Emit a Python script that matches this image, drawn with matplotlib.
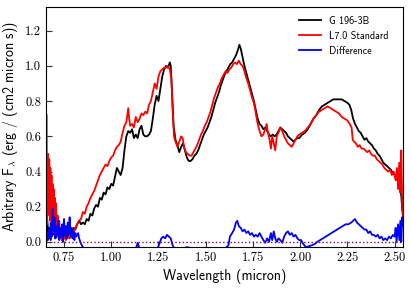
import matplotlib
matplotlib.use("Agg")
import matplotlib.pyplot as plt

# G 196-3B spectrum (black)
wl_obj = [0.656, 0.662, 0.668, 0.674, 0.680, 0.686, 0.692, 0.698, 0.704, 0.710,
          0.716, 0.722, 0.728, 0.734, 0.740, 0.748, 0.756, 0.764, 0.772, 0.780,
          0.790, 0.800, 0.810, 0.820, 0.830, 0.840, 0.850, 0.860, 0.870, 0.880,
          0.890, 0.900, 0.910, 0.920, 0.930, 0.940, 0.950, 0.960, 0.970, 0.980,
          0.990, 1.000, 1.010, 1.020, 1.030, 1.040, 1.050, 1.060, 1.070, 1.080,
          1.090, 1.100, 1.110, 1.120, 1.130, 1.140, 1.150, 1.160, 1.170, 1.180,
          1.190, 1.200, 1.210, 1.220, 1.230, 1.240, 1.250, 1.260, 1.270, 1.280,
          1.290, 1.300, 1.310, 1.315, 1.322, 1.330, 1.340, 1.350, 1.360, 1.370,
          1.380, 1.390, 1.400, 1.410, 1.420, 1.430, 1.440, 1.450, 1.460, 1.470,
          1.480, 1.490, 1.500, 1.510, 1.520, 1.530, 1.540, 1.550, 1.560, 1.570,
          1.580, 1.590, 1.600, 1.610, 1.620, 1.630, 1.640, 1.650, 1.660, 1.670,
          1.678, 1.685, 1.695, 1.705, 1.715, 1.725, 1.735, 1.745, 1.755, 1.765,
          1.775, 1.785, 1.795, 1.805, 1.815, 1.825, 1.835, 1.845, 1.855, 1.865,
          1.875, 1.885, 1.895, 1.905, 1.915, 1.925, 1.935, 1.945, 1.955, 1.965,
          1.975, 1.985, 1.995, 2.010, 2.025, 2.040, 2.055, 2.070, 2.085, 2.100,
          2.115, 2.130, 2.145, 2.160, 2.175, 2.190, 2.205, 2.220, 2.235, 2.250,
          2.260, 2.270, 2.280, 2.290, 2.300, 2.310, 2.320, 2.330, 2.340, 2.350,
          2.360, 2.370, 2.380, 2.390, 2.400, 2.410, 2.420, 2.430, 2.440, 2.450,
          2.460, 2.470, 2.480, 2.490, 2.500, 2.510, 2.520, 2.530, 2.535, 2.540]
fl_obj = [0.02, 0.12, 0.03, 0.08, 0.01, 0.10, 0.04, 0.13, 0.02, 0.07,
          0.03, 0.09, 0.02, 0.06, 0.01, 0.04, 0.02, 0.05, 0.03, 0.06,
          0.05, 0.08, 0.07, 0.10, 0.12, 0.10, 0.11, 0.10, 0.13, 0.12,
          0.16, 0.15, 0.19, 0.21, 0.20, 0.25, 0.24, 0.28, 0.27, 0.31,
          0.30, 0.33, 0.32, 0.37, 0.42, 0.40, 0.38, 0.42, 0.52, 0.60,
          0.63, 0.62, 0.64, 0.59, 0.61, 0.59, 0.64, 0.66, 0.61, 0.60,
          0.60, 0.61, 0.63, 0.70, 0.78, 0.83, 0.80, 0.87, 0.94, 0.98,
          1.00, 0.99, 1.02, 1.00, 0.85, 0.66, 0.58, 0.55, 0.51, 0.54,
          0.56, 0.52, 0.48, 0.46, 0.46, 0.47, 0.49, 0.50, 0.52, 0.55,
          0.58, 0.61, 0.63, 0.65, 0.68, 0.71, 0.75, 0.79, 0.82, 0.85,
          0.89, 0.92, 0.95, 0.97, 0.99, 1.01, 1.02, 1.04, 1.06, 1.09,
          1.12, 1.10, 1.05, 1.00, 0.96, 0.92, 0.88, 0.84, 0.80, 0.75,
          0.70, 0.67, 0.66, 0.64, 0.65, 0.63, 0.61, 0.60, 0.61, 0.60,
          0.61, 0.63, 0.65, 0.64, 0.63, 0.62, 0.60, 0.59, 0.58, 0.57,
          0.58, 0.59, 0.59, 0.61, 0.62, 0.64, 0.67, 0.70, 0.72, 0.75,
          0.77, 0.78, 0.79, 0.80, 0.81, 0.81, 0.81, 0.81, 0.80, 0.79,
          0.78, 0.75, 0.70, 0.67, 0.65, 0.63, 0.62, 0.60, 0.58, 0.59,
          0.57, 0.56, 0.55, 0.53, 0.52, 0.50, 0.49, 0.47, 0.45, 0.44,
          0.43, 0.42, 0.41, 0.39, 0.38, 0.36, 0.34, 0.30, 0.26, 0.18]

# L7.0 standard (red)
wl_std = [0.6585, 0.6595, 0.661, 0.663, 0.666, 0.669, 0.672, 0.675, 0.678, 0.681,
          0.684, 0.687, 0.690, 0.693, 0.696, 0.699, 0.702, 0.705, 0.708, 0.712,
          0.716, 0.720, 0.725, 0.730, 0.735, 0.740, 0.745, 0.750, 0.760, 0.770,
          0.780, 0.790, 0.800, 0.810, 0.820, 0.830, 0.840, 0.850, 0.860, 0.870,
          0.880, 0.890, 0.900, 0.910, 0.920, 0.930, 0.940, 0.950, 0.960, 0.970,
          0.980, 0.990, 1.000, 1.010, 1.020, 1.030, 1.040, 1.050, 1.060, 1.070,
          1.080, 1.090, 1.095, 1.100, 1.110, 1.120, 1.130, 1.140, 1.150, 1.160,
          1.170, 1.180, 1.190, 1.200, 1.210, 1.220, 1.230, 1.240, 1.250, 1.260,
          1.270, 1.280, 1.290, 1.300, 1.310, 1.318, 1.325, 1.332, 1.340, 1.350,
          1.360, 1.370, 1.378, 1.385, 1.395, 1.405, 1.415, 1.425, 1.435, 1.445,
          1.455, 1.465, 1.475, 1.485, 1.495, 1.505, 1.515, 1.525, 1.535, 1.545,
          1.555, 1.565, 1.575, 1.585, 1.595, 1.605, 1.615, 1.625, 1.635, 1.645,
          1.655, 1.665, 1.675, 1.685, 1.695, 1.705, 1.715, 1.725, 1.735, 1.745,
          1.755, 1.765, 1.775, 1.785, 1.795, 1.805, 1.815, 1.822, 1.830, 1.838,
          1.845, 1.852, 1.860, 1.868, 1.876, 1.885, 1.895, 1.905, 1.915, 1.925,
          1.935, 1.945, 1.955, 1.965, 1.975, 1.985, 1.995, 2.010, 2.025, 2.040,
          2.055, 2.070, 2.085, 2.100, 2.115, 2.130, 2.145, 2.160, 2.175, 2.190,
          2.205, 2.220, 2.235, 2.250, 2.262, 2.272, 2.278, 2.285, 2.295, 2.305,
          2.315, 2.325, 2.335, 2.345, 2.355, 2.365, 2.375, 2.385, 2.395, 2.405,
          2.415, 2.425, 2.435, 2.445, 2.455, 2.465, 2.475, 2.485, 2.495, 2.505,
          2.512, 2.518, 2.524, 2.530, 2.535, 2.540, 2.543]
fl_std = [0.72, 0.10, 0.45, 0.15, 0.50, 0.20, 0.47, 0.12, 0.42, 0.18,
          0.38, 0.08, 0.33, 0.15, 0.30, 0.05, 0.25, 0.10, 0.22, 0.03,
          0.15, 0.06, 0.12, 0.02, 0.08, 0.01, 0.05, 0.03, 0.01, 0.03,
          0.02, 0.04, 0.05, 0.08, 0.10, 0.12, 0.13, 0.17, 0.16, 0.20,
          0.22, 0.25, 0.27, 0.29, 0.32, 0.35, 0.38, 0.40, 0.42, 0.44,
          0.43, 0.46, 0.48, 0.49, 0.52, 0.54, 0.55, 0.57, 0.62, 0.66,
          0.68, 0.76, 0.70, 0.66, 0.67, 0.65, 0.71, 0.68, 0.70, 0.73,
          0.72, 0.74, 0.73, 0.78, 0.80, 0.85, 0.90, 0.87, 0.94, 0.97,
          0.98, 0.99, 0.99, 1.00, 0.98, 0.93, 0.75, 0.60, 0.57, 0.54,
          0.57, 0.60, 0.59, 0.54, 0.51, 0.50, 0.49, 0.49, 0.51, 0.53,
          0.55, 0.58, 0.61, 0.63, 0.66, 0.68, 0.71, 0.74, 0.78, 0.82,
          0.85, 0.88, 0.90, 0.93, 0.95, 0.97, 0.96, 0.98, 0.99, 1.01,
          1.02, 1.01, 1.03, 1.01, 1.00, 0.97, 0.93, 0.90, 0.86, 0.82,
          0.79, 0.73, 0.67, 0.63, 0.60, 0.61, 0.64, 0.67, 0.62, 0.58,
          0.53, 0.60, 0.56, 0.52, 0.60, 0.62, 0.65, 0.63, 0.60, 0.58,
          0.56, 0.55, 0.54, 0.56, 0.58, 0.60, 0.61, 0.62, 0.63, 0.65,
          0.67, 0.70, 0.72, 0.74, 0.75, 0.76, 0.77, 0.76, 0.75, 0.74,
          0.73, 0.71, 0.70, 0.69, 0.67, 0.65, 0.58, 0.57, 0.56, 0.54,
          0.55, 0.53, 0.53, 0.52, 0.51, 0.52, 0.50, 0.49, 0.49, 0.47,
          0.46, 0.45, 0.44, 0.42, 0.41, 0.40, 0.41, 0.38, 0.40, 0.35,
          0.42, 0.30, 0.45, 0.28, 0.52, 0.20, 0.14]

# difference (blue), object minus standard
wl_diff = [0.656, 0.660, 0.665, 0.670, 0.675, 0.680, 0.685, 0.690, 0.695, 0.700,
           0.705, 0.710, 0.715, 0.720, 0.725, 0.730, 0.735, 0.740, 0.745, 0.750,
           0.755, 0.760, 0.765, 0.770, 0.775, 0.780, 0.785, 0.790, 0.795, 0.800,
           0.805, 0.810, 0.815, 0.820, 0.825, 0.830, 0.840, 0.850, 0.900, 1.000,
           1.100, 1.130, 1.140, 1.150, 1.200, 1.240, 1.255, 1.265, 1.275, 1.285,
           1.295, 1.305, 1.315, 1.325, 1.340, 1.400, 1.500, 1.600, 1.620, 1.628,
           1.640, 1.650, 1.660, 1.667, 1.675, 1.685, 1.695, 1.705, 1.715, 1.725,
           1.735, 1.745, 1.755, 1.765, 1.775, 1.785, 1.795, 1.805, 1.815, 1.825,
           1.835, 1.845, 1.852, 1.860, 1.868, 1.876, 1.885, 1.895, 1.905, 1.915,
           1.925, 1.935, 1.945, 1.955, 1.965, 1.975, 1.985, 1.995, 2.005, 2.015,
           2.030, 2.060, 2.080, 2.090, 2.105, 2.120, 2.135, 2.150, 2.165, 2.180,
           2.195, 2.210, 2.225, 2.240, 2.255, 2.270, 2.280, 2.290, 2.300, 2.310,
           2.320, 2.330, 2.340, 2.350, 2.360, 2.370, 2.380, 2.390, 2.400, 2.410,
           2.420, 2.430, 2.440, 2.450, 2.460, 2.470, 2.480, 2.490, 2.500, 2.505,
           2.510, 2.518, 2.525, 2.530, 2.535, 2.540, 2.543]
fl_diff = [0.00, 0.05, 0.01, 0.07, 0.02, 0.11, 0.03, 0.19, 0.06, 0.14,
           0.02, 0.09, 0.04, 0.12, 0.01, 0.08, 0.03, 0.10, 0.00, 0.13,
           0.04, 0.09, 0.02, 0.11, 0.05, 0.14, 0.03, 0.08, 0.02, 0.06,
           0.01, 0.05, 0.03, 0.04, 0.05, 0.02, -0.01, -0.03, -0.12, -0.15,
           -0.08, -0.04, -0.005, -0.04, -0.15, -0.05, -0.01, 0.02, 0.03, 0.02,
           0.04, 0.03, 0.02, -0.02, -0.05, -0.03, -0.05, -0.04, -0.02, 0.03,
           0.05, 0.07, 0.11, 0.12, 0.09, 0.08, 0.06, 0.07, 0.05, 0.06,
           0.04, 0.05, 0.03, 0.04, 0.03, 0.05, 0.03, 0.01, -0.005, 0.02,
           0.00, 0.05, 0.01, 0.06, 0.02, 0.00, 0.02, 0.01, -0.005, 0.03,
           0.05, 0.06, 0.04, 0.05, 0.03, 0.04, 0.02, 0.01, 0.01, -0.01,
           -0.03, -0.02, -0.01, 0.00, 0.01, 0.02, 0.03, 0.04, 0.05, 0.06,
           0.07, 0.08, 0.09, 0.10, 0.10, 0.11, 0.12, 0.13, 0.11, 0.10,
           0.09, 0.08, 0.07, 0.07, 0.05, 0.06, 0.04, 0.04, 0.03, 0.04,
           0.02, 0.03, 0.01, 0.02, 0.01, 0.03, 0.02, 0.04, 0.03, 0.08,
           0.00, 0.10, 0.01, 0.12, 0.00, 0.14, 0.10]

x_ticks = [0.75, 1.00, 1.25, 1.50, 1.75, 2.00, 2.25, 2.50]
y_ticks = [0.0, 0.2, 0.4, 0.6, 0.8, 1.0, 1.2]

plt.rcParams["mathtext.fontset"] = "cm"
plt.rcParams["xtick.direction"] = "in"
plt.rcParams["ytick.direction"] = "in"

fig = plt.figure(figsize=(4.11, 2.88), dpi=100)
ax = fig.add_axes([0.112, 0.143, 0.869, 0.834])

ax.plot(wl_obj, fl_obj, color="k", lw=1.3, label="G 196-3B")
ax.plot(wl_std, fl_std, color="r", lw=1.3, label="L7.0 Standard")
ax.plot(wl_diff, fl_diff, color="b", lw=1.3, label="Difference")
ax.axhline(0.0, color="purple", ls=":", lw=1.0)

ax.set_xlim(0.655, 2.545)
ax.set_ylim(-0.028, 1.337)
ax.set_xticks(x_ticks)
ax.set_yticks(y_ticks)
ax.set_xticklabels([f"{t:.2f}" for t in x_ticks], fontfamily="cmr10", fontsize=9)
ax.set_yticklabels([f"{t:.1f}" for t in y_ticks], fontfamily="cmr10", fontsize=9)
ax.tick_params(length=4, width=0.8, top=False, right=False, color="#333333")

ax.set_xlabel("Wavelength (micron)", fontfamily="cmss10", fontsize=10, labelpad=4)
ax.set_ylabel(r"Arbitrary F$_\lambda$ (erg / (cm2 micron s))", fontfamily="cmss10",
              fontsize=10, labelpad=4)

ax.legend(loc="upper right", frameon=False, prop={"family": "cmss10", "size": 7.3},
          handlelength=2.2, handletextpad=0.8, labelspacing=0.5,
          bbox_to_anchor=(0.985, 1.0))

fig.savefig("out.png", dpi=100)
